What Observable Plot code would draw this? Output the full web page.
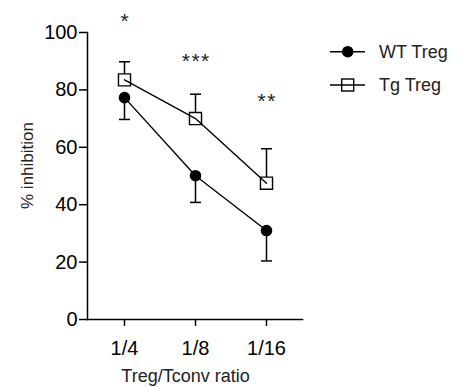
<!DOCTYPE html>
<html><head><meta charset="utf-8">
<script src="https://cdn.jsdelivr.net/npm/d3@7"></script>
<script src="https://cdn.jsdelivr.net/npm/@observablehq/plot@0.6"></script>
<style>
body{margin:0;background:#fff;font-family:"Liberation Sans",Arial,sans-serif;}
#wrap{position:relative;width:465px;height:387px;}
#legend{position:absolute;left:0;top:0;}
</style></head><body><div id="wrap"></div>
<script>
const ratios = ["1/4", "1/8", "1/16"];
const wtMean = [77.3, 50.1, 31.0];
const wtErr = [7.6, 9.3, 10.6];   // drawn downward
const tgMean = [83.5, 70.0, 47.5];
const tgErr = [6.3, 8.5, 12.0];   // drawn upward
const stars = ["*", "***", "**"];
const starY = [101.6, 87.6, 73.7];
const yTicks = [0, 20, 40, 60, 80, 100];
const seriesNames = ["WT Treg", "Tg Treg"];

const wt = ratios.map((r, i) => ({ratio: r, mean: wtMean[i], lo: wtMean[i] - wtErr[i], hi: wtMean[i]}));
const tg = ratios.map((r, i) => ({ratio: r, mean: tgMean[i], lo: tgMean[i], hi: tgMean[i] + tgErr[i]}));
const errs = [...wt, ...tg];
const caps = [...wt.map(d => ({ratio: d.ratio, y: d.lo})), ...tg.map(d => ({ratio: d.ratio, y: d.hi}))];
const starData = ratios.map((r, i) => ({ratio: r, y: starY[i], s: stars[i]}));

// horizontal cap symbol (half-width = r)
const capSymbol = {draw(ctx, size) { const h = Math.sqrt(size / Math.PI); ctx.moveTo(-h, 0); ctx.lineTo(h, 0); }};

const font = "Liberation Sans, Arial, Helvetica, sans-serif";
const plot = Plot.plot({
  width: 465, height: 387,
  marginLeft: 87, marginRight: 163, marginTop: 32, marginBottom: 68,
  style: {fontFamily: font, fontSize: "20px", color: "#000", background: "white", overflow: "visible"},
  x: {type: "point", domain: ratios, padding: 0.5, label: null},
  y: {domain: [0, 100], label: null},
  marks: [
    Plot.axisY({ticks: yTicks, tickSize: 8, tickPadding: 2, label: null, fontSize: 20, strokeWidth: 1.5}),
    Plot.axisX({tickSize: 7, tickPadding: 14, label: null, fontSize: 20, strokeWidth: 1.5}),
    Plot.frame({anchor: "left", strokeWidth: 1.5}),
    Plot.frame({anchor: "bottom", strokeWidth: 1.5}),
    Plot.ruleX(errs, {x: "ratio", y1: "lo", y2: "hi", strokeWidth: 1.5}),
    Plot.dot(caps, {x: "ratio", y: "y", symbol: capSymbol, r: 5.5, fill: "none", stroke: "black", strokeWidth: 1.5}),
    Plot.dot(tg, {x: "ratio", y: "mean", symbol: "square", r: 6.8, fill: "white", stroke: "black", strokeWidth: 1.4}),
    Plot.line(wt, {x: "ratio", y: "mean", stroke: "black", strokeWidth: 1.4}),
    Plot.line(tg, {x: "ratio", y: "mean", stroke: "black", strokeWidth: 1.4}),
    Plot.dot(wt, {x: "ratio", y: "mean", r: 5.8, fill: "black", stroke: "none"}),
    Plot.text(starData, {x: "ratio", y: "y", text: "s", fontSize: 21, lineAnchor: "bottom", textAnchor: "middle", fill: "#222"}),
    Plot.text(["% inhibition"], {frameAnchor: "left", rotate: -90, dx: -59.5, dy: -10.5, fontSize: 17, textAnchor: "middle", lineAnchor: "middle", fill: "#222"}),
    Plot.text(["Treg/Tconv ratio"], {frameAnchor: "bottom", dx: -9.5, dy: 62.7, fontSize: 18, textAnchor: "middle", lineAnchor: "bottom", fill: "#222"})
  ]
});
const wrap = document.getElementById("wrap");
wrap.appendChild(plot);
d3.select(plot).selectAll("text").filter(function() { return /^\*+$/.test(this.textContent); })
  .style("letter-spacing", "1.5px").attr("dx", "0.75");

// Legend
const leg = d3.select(wrap).append("svg").attr("id", "legend").attr("width", 465).attr("height", 120)
  .style("font-family", font);
const rows = [{name: seriesNames[0], y: 51.7, sym: "circle"}, {name: seriesNames[1], y: 85, sym: "square"}];
rows.forEach(r => {
  const g = leg.append("g");
  g.append("line").attr("x1", 330).attr("x2", 365).attr("y1", r.y).attr("y2", r.y).attr("stroke", "black").attr("stroke-width", 1.4);
  if (r.sym === "circle") g.append("circle").attr("cx", 347.7).attr("cy", r.y).attr("r", 5.8).attr("fill", "black");
  else g.append("rect").attr("x", 347.7 - 6).attr("y", r.y - 6).attr("width", 12).attr("height", 12).attr("fill", "none").attr("stroke", "black").attr("stroke-width", 1.4);
  g.append("text").attr("x", 379).attr("y", r.y).attr("dy", "0.35em").attr("font-size", 18).attr("fill", "#222").text(r.name);
});
</script></body></html>
